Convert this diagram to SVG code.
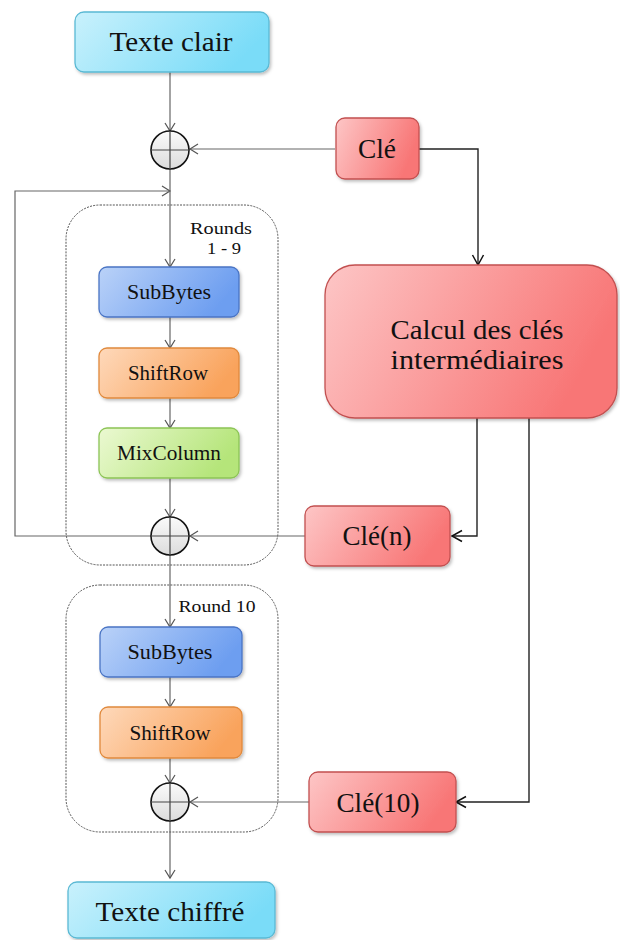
<svg xmlns="http://www.w3.org/2000/svg" width="620" height="940" viewBox="0 0 620 940">
<style>
text{fill:#111;text-anchor:middle;dominant-baseline:central}
.big{font-size:27px}
.mid{font-size:20px}
.sm{font-size:17.5px}
.grp{fill:none;stroke:#555;stroke-width:1;stroke-dasharray:2 1.2}
.c{fill:none;stroke:#666;stroke-width:1.2}
.k{fill:none;stroke:#222;stroke-width:1.4}
.xor circle{fill:url(#gx);stroke:#111;stroke-width:1.6}
.xor line{stroke:#444;stroke-width:1.2}
.node rect{filter:url(#sh)}
</style>
<defs>
<filter id="sh" x="-10%" y="-10%" width="125%" height="130%">
<feDropShadow dx="1.5" dy="2" stdDeviation="1.5" flood-color="#000" flood-opacity="0.25"/>
</filter>
<linearGradient id="gc" x1="0" y1="0" x2="1" y2="0.3"><stop offset="0" stop-color="#c9f1fc"/><stop offset="1" stop-color="#7adcf8"/></linearGradient>
<linearGradient id="gb" x1="0" y1="0" x2="1" y2="0.3"><stop offset="0" stop-color="#bad2f8"/><stop offset="1" stop-color="#6d9ef0"/></linearGradient>
<linearGradient id="go" x1="0" y1="0" x2="1" y2="0.3"><stop offset="0" stop-color="#fed9bb"/><stop offset="1" stop-color="#f9a35c"/></linearGradient>
<linearGradient id="gg" x1="0" y1="0" x2="1" y2="0.3"><stop offset="0" stop-color="#ebf9d2"/><stop offset="1" stop-color="#b5e57a"/></linearGradient>
<linearGradient id="gr" x1="0" y1="0" x2="1" y2="0.3"><stop offset="0" stop-color="#fdc6c6"/><stop offset="1" stop-color="#f87676"/></linearGradient>
<linearGradient id="gx" x1="0" y1="0" x2="0" y2="1"><stop offset="0" stop-color="#fafafa"/><stop offset="1" stop-color="#dcdcdc"/></linearGradient>
<marker id="a" markerWidth="12" markerHeight="12" refX="9" refY="6" orient="auto" markerUnits="userSpaceOnUse"><path d="M1,1 L9,6 L1,11" fill="none" stroke="#555" stroke-width="1.2"/></marker>
<marker id="ak" markerWidth="14" markerHeight="14" refX="11" refY="7" orient="auto" markerUnits="userSpaceOnUse"><path d="M1,1.5 L11,7 L1,12.5" fill="none" stroke="#111" stroke-width="1.5"/></marker>
</defs>
<rect width="620" height="940" fill="#fff"/>

<g id="round-1-9">
<rect class="grp" x="66" y="205" width="212" height="360" rx="34"/>
<text class="sm" font-family="Liberation Serif, DejaVu Serif, serif" x="221" y="228" textLength="62" lengthAdjust="spacingAndGlyphs">Rounds</text>
<text class="sm" font-family="Liberation Serif, DejaVu Serif, serif" x="224" y="248" textLength="34" lengthAdjust="spacingAndGlyphs">1 - 9</text>
</g>
<g id="round-10">
<rect class="grp" x="66" y="585" width="212" height="247" rx="34"/>
<text class="sm" font-family="Liberation Serif, DejaVu Serif, serif" x="217" y="606" textLength="77" lengthAdjust="spacingAndGlyphs">Round 10</text>
</g>

<g id="connectors">
<line class="c" x1="170" y1="72" x2="170" y2="131" marker-end="url(#a)"/>
<line class="c" x1="335" y1="149" x2="190" y2="149" marker-end="url(#a)"/>
<path class="k" d="M419,149 H478 V265" marker-end="url(#ak)"/>
<path class="c" d="M151,536 H15 V191 H170" marker-end="url(#a)"/>
<line class="c" x1="170" y1="169" x2="170" y2="267" marker-end="url(#a)"/>
<line class="c" x1="170" y1="317" x2="170" y2="348" marker-end="url(#a)"/>
<line class="c" x1="170" y1="398" x2="170" y2="428" marker-end="url(#a)"/>
<line class="c" x1="170" y1="478" x2="170" y2="517" marker-end="url(#a)"/>
<line class="c" x1="305" y1="536" x2="190" y2="536" marker-end="url(#a)"/>
<line class="c" x1="170" y1="555" x2="170" y2="627" marker-end="url(#a)"/>
<line class="c" x1="170" y1="677" x2="170" y2="707" marker-end="url(#a)"/>
<line class="c" x1="170" y1="758" x2="170" y2="783" marker-end="url(#a)"/>
<line class="c" x1="309" y1="802" x2="190" y2="802" marker-end="url(#a)"/>
<path class="k" d="M477,418 V536 H452" marker-end="url(#ak)"/>
<path class="k" d="M529,418 V802 H456" marker-end="url(#ak)"/>
<line class="c" x1="170" y1="821" x2="170" y2="878" marker-end="url(#a)"/>
</g>

<g id="texte-clair" class="node">
<rect x="75" y="12" width="194" height="60" rx="9" fill="url(#gc)" stroke="#5ab9d4" stroke-width="1.3"/>
<text class="big" font-family="Liberation Serif, DejaVu Serif, serif" x="171" y="42" textLength="123" lengthAdjust="spacingAndGlyphs">Texte clair</text>
</g>
<g id="xor1" class="xor">
<circle cx="170" cy="150" r="19"/>
<line x1="151" y1="150" x2="189" y2="150"/><line x1="170" y1="131" x2="170" y2="169"/>
</g>
<g id="cle" class="node">
<rect x="336" y="118" width="83" height="61" rx="9" fill="url(#gr)" stroke="#c25050" stroke-width="1.3"/>
<text class="big" font-family="Liberation Serif, DejaVu Serif, serif" x="377" y="149" textLength="38" lengthAdjust="spacingAndGlyphs">Clé</text>
</g>
<g id="calcul" class="node">
<rect x="325" y="265" width="292" height="153" rx="30" fill="url(#gr)" stroke="#c25050" stroke-width="1.3"/>
<text class="big" font-family="Liberation Serif, DejaVu Serif, serif" x="477" y="330" textLength="173" lengthAdjust="spacingAndGlyphs">Calcul des clés</text>
<text class="big" font-family="Liberation Serif, DejaVu Serif, serif" x="477" y="360" textLength="173" lengthAdjust="spacingAndGlyphs">intermédiaires</text>
</g>
<g id="subbytes1" class="node">
<rect x="99" y="267" width="140" height="50" rx="8" fill="url(#gb)" stroke="#4a74c4" stroke-width="1.3"/>
<text class="mid" font-family="Liberation Serif, DejaVu Serif, serif" x="169" y="292" textLength="84" lengthAdjust="spacingAndGlyphs">SubBytes</text>
</g>
<g id="shiftrow1" class="node">
<rect x="99" y="348" width="140" height="50" rx="8" fill="url(#go)" stroke="#e0893c" stroke-width="1.3"/>
<text class="mid" font-family="Liberation Serif, DejaVu Serif, serif" x="168" y="373" textLength="80" lengthAdjust="spacingAndGlyphs">ShiftRow</text>
</g>
<g id="mixcolumn" class="node">
<rect x="99" y="428" width="140" height="50" rx="8" fill="url(#gg)" stroke="#8cc456" stroke-width="1.3"/>
<text class="mid" font-family="Liberation Serif, DejaVu Serif, serif" x="169" y="453" textLength="104" lengthAdjust="spacingAndGlyphs">MixColumn</text>
</g>
<g id="xor2" class="xor">
<circle cx="170" cy="536" r="19"/>
<line x1="151" y1="536" x2="189" y2="536"/><line x1="170" y1="517" x2="170" y2="555"/>
</g>
<g id="cle-n" class="node">
<rect x="305" y="506" width="145" height="60" rx="9" fill="url(#gr)" stroke="#c25050" stroke-width="1.3"/>
<text class="big" font-family="Liberation Serif, DejaVu Serif, serif" x="377" y="536" textLength="69" lengthAdjust="spacingAndGlyphs">Clé(n)</text>
</g>
<g id="subbytes2" class="node">
<rect x="100" y="627" width="142" height="50" rx="8" fill="url(#gb)" stroke="#4a74c4" stroke-width="1.3"/>
<text class="mid" font-family="Liberation Serif, DejaVu Serif, serif" x="170" y="652" textLength="85" lengthAdjust="spacingAndGlyphs">SubBytes</text>
</g>
<g id="shiftrow2" class="node">
<rect x="100" y="707" width="142" height="51" rx="8" fill="url(#go)" stroke="#e0893c" stroke-width="1.3"/>
<text class="mid" font-family="Liberation Serif, DejaVu Serif, serif" x="170" y="733" textLength="81" lengthAdjust="spacingAndGlyphs">ShiftRow</text>
</g>
<g id="xor3" class="xor">
<circle cx="170" cy="802" r="19"/>
<line x1="151" y1="802" x2="189" y2="802"/><line x1="170" y1="783" x2="170" y2="821"/>
</g>
<g id="cle-10" class="node">
<rect x="309" y="772" width="147" height="60" rx="9" fill="url(#gr)" stroke="#c25050" stroke-width="1.3"/>
<text class="big" font-family="Liberation Serif, DejaVu Serif, serif" x="378" y="803" textLength="83" lengthAdjust="spacingAndGlyphs">Clé(10)</text>
</g>
<g id="texte-chiffre" class="node">
<rect x="68" y="882" width="207" height="56" rx="9" fill="url(#gc)" stroke="#5ab9d4" stroke-width="1.3"/>
<text class="big" font-family="Liberation Serif, DejaVu Serif, serif" x="170" y="912" textLength="149" lengthAdjust="spacingAndGlyphs">Texte chiffré</text>
</g>
</svg>
